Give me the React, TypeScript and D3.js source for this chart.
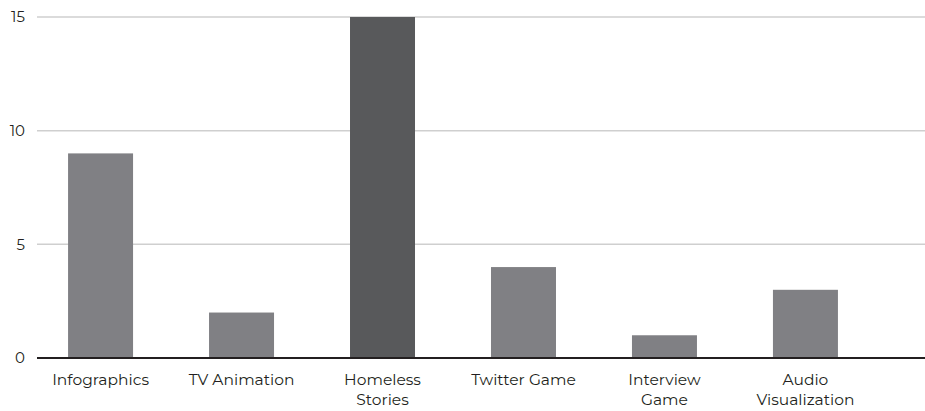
import React from "react";
import * as d3 from "d3";

const categories: string[][] = [
  ["Infographics"],
  ["TV Animation"],
  ["Homeless", "Stories"],
  ["Twitter Game"],
  ["Interview", "Game"],
  ["Audio", "Visualization"],
];
const values: number[] = [9, 2, 15, 4, 1, 3];
const highlight: number = 2;
const yTicks: number[] = [0, 5, 10, 15];

const W = 925;
const H = 411;

export default function App() {
  const x = d3
    .scaleBand<number>()
    .domain(values.map((_, i) => i))
    .range([30, 876])
    .paddingInner(0.539)
    .paddingOuter(0.27);
  const y = d3.scaleLinear().domain([0, 15]).range([358, 17]);
  const font = "'Montserrat', 'Noto Sans', 'Liberation Sans', sans-serif";

  return (
    <svg
      width={W}
      height={H}
      style={{ position: "absolute", left: 0, top: 0, background: "#fff" }}
      fontFamily={font}
    >
      {yTicks.filter((t) => t !== 0).map((t) => (
        <line key={"g" + t} x1={37} x2={W} y1={y(t)} y2={y(t)} stroke="#cfcfcf" strokeWidth={1.5} />
      ))}
      {values.map((v, i) => (
        <rect
          key={"b" + i}
          x={x(i)}
          y={y(v)}
          width={x.bandwidth()}
          height={y(0) - y(v)}
          fill={i === highlight ? "#58595b" : "#808084"}
        />
      ))}
      <line x1={37} x2={W} y1={y(0)} y2={y(0)} stroke="#231f20" strokeWidth={2} />
      {yTicks.map((t) => (
        <text key={"t" + t} x={25} y={y(t)} dy="0.36em" textAnchor="end" fontSize={15} fill="#231f20">
          {t}
        </text>
      ))}
      {categories.map((lines, i) => (
        <text
          key={"c" + i}
          x={(x(i) as number) + x.bandwidth() / 2}
          y={385}
          textAnchor="middle"
          fontSize={15.5}
          fill="#231f20"
        >
          {lines.map((l, j) => (
            <tspan key={j} x={(x(i) as number) + x.bandwidth() / 2} dy={j === 0 ? 0 : 20}>
              {l}
            </tspan>
          ))}
        </text>
      ))}
    </svg>
  );
}
